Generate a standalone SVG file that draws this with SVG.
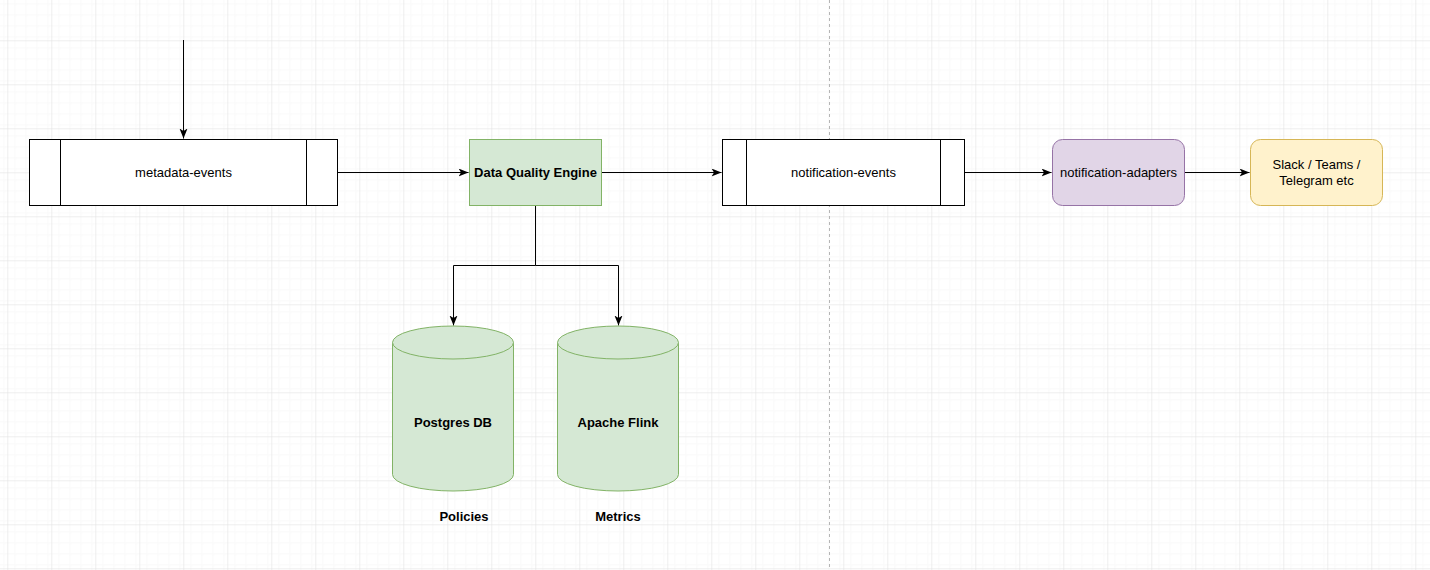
<svg xmlns="http://www.w3.org/2000/svg" width="1430" height="570" viewBox="0 0 1430 570">
<style>
.t{font-family:"Liberation Sans",Arial,Helvetica,sans-serif;font-size:13px;fill:#000;text-anchor:middle}
.b{font-weight:bold}
.box{fill:#fff;stroke:#000;stroke-width:1}
.green{fill:#d5e8d4;stroke:#82b366;stroke-width:1}
.purple{fill:#e1d5e7;stroke:#9673a6;stroke-width:1}
.yellow{fill:#fff2cc;stroke:#d6b656;stroke-width:1}
.edge{fill:none;stroke:#000;stroke-width:1}
</style>
<defs>
<pattern id="minor" patternUnits="userSpaceOnUse" x="7.3" y="-3.7" width="11" height="11">
<path d="M0 0 H11 M0 0 V11" fill="none" stroke="#f3f3f3" stroke-width="1"/>
</pattern>
<pattern id="major" patternUnits="userSpaceOnUse" x="7.3" y="-3.7" width="44" height="44">
<rect width="44" height="44" fill="url(#minor)"/>
<path d="M0 0 H44 M0 0 V44" fill="none" stroke="#dedede" stroke-width="1"/>
</pattern>
<marker id="arr" markerUnits="userSpaceOnUse" markerWidth="12" markerHeight="10" refX="10" refY="4" orient="auto">
<path d="M0,0 L10,4 L0,8 L2.5,4 Z" fill="#000"/>
</marker>
</defs>
<rect width="1430" height="570" fill="#fff"/>
<rect width="1430" height="570" fill="url(#major)"/>
<line x1="829.5" y1="0" x2="829.5" y2="570" stroke="#b5b5b5" stroke-width="1" stroke-dasharray="3 3"/>

<g id="connectors">
<path class="edge" d="M183.5 40 V138.5" marker-end="url(#arr)"/>
<path class="edge" d="M337.5 172.5 H468.5" marker-end="url(#arr)"/>
<path class="edge" d="M601.5 172.5 H721.5" marker-end="url(#arr)"/>
<path class="edge" d="M965 172.5 H1051.5" marker-end="url(#arr)"/>
<path class="edge" d="M1184.5 172.5 H1249.5" marker-end="url(#arr)"/>
<path class="edge" d="M535.5 205.5 V265.5 H453.5 V325.5" marker-end="url(#arr)"/>
<path class="edge" d="M535.5 265.5 H618.5 V325.5" marker-end="url(#arr)"/>
</g>

<g id="metadata-events">
<rect class="box" x="29.5" y="139.5" width="308" height="66"/>
<line class="edge" x1="60.5" y1="139.5" x2="60.5" y2="205.5"/>
<line class="edge" x1="306.5" y1="139.5" x2="306.5" y2="205.5"/>
<text class="t" x="183.5" y="177">metadata-events</text>
</g>

<g id="data-quality-engine">
<rect class="green" x="469.5" y="139.5" width="132" height="66"/>
<text class="t b" x="535.5" y="177">Data Quality Engine</text>
</g>

<g id="notification-events">
<rect class="box" x="722.5" y="139.5" width="242" height="66"/>
<line class="edge" x1="746.5" y1="139.5" x2="746.5" y2="205.5"/>
<line class="edge" x1="940.5" y1="139.5" x2="940.5" y2="205.5"/>
<text class="t" x="843.5" y="177">notification-events</text>
</g>

<g id="notification-adapters">
<rect class="purple" x="1052.5" y="139.5" width="132" height="66" rx="10" ry="10"/>
<text class="t" x="1118.5" y="177">notification-adapters</text>
</g>

<g id="slack">
<rect class="yellow" x="1250.5" y="139.5" width="132" height="66" rx="10" ry="10"/>
<text class="t" x="1316.5" y="169">Slack / Teams /</text>
<text class="t" x="1316.5" y="185">Telegram etc</text>
</g>

<g id="postgres">
<path class="green" d="M392.5 342.5 A60.5 16.5 0 0 1 513.5 342.5 V474.5 A60.5 16.5 0 0 1 392.5 474.5 Z"/>
<path class="green" fill="none" d="M392.5 342.5 A60.5 16.5 0 0 0 513.5 342.5"/>
<text class="t b" x="453" y="427">Postgres DB</text>
<text class="t b" x="464" y="521">Policies</text>
</g>

<g id="flink">
<path class="green" d="M557.5 342.5 A60.5 16.5 0 0 1 678.5 342.5 V474.5 A60.5 16.5 0 0 1 557.5 474.5 Z"/>
<path class="green" fill="none" d="M557.5 342.5 A60.5 16.5 0 0 0 678.5 342.5"/>
<text class="t b" x="618" y="427">Apache Flink</text>
<text class="t b" x="618" y="521">Metrics</text>
</g>
</svg>
